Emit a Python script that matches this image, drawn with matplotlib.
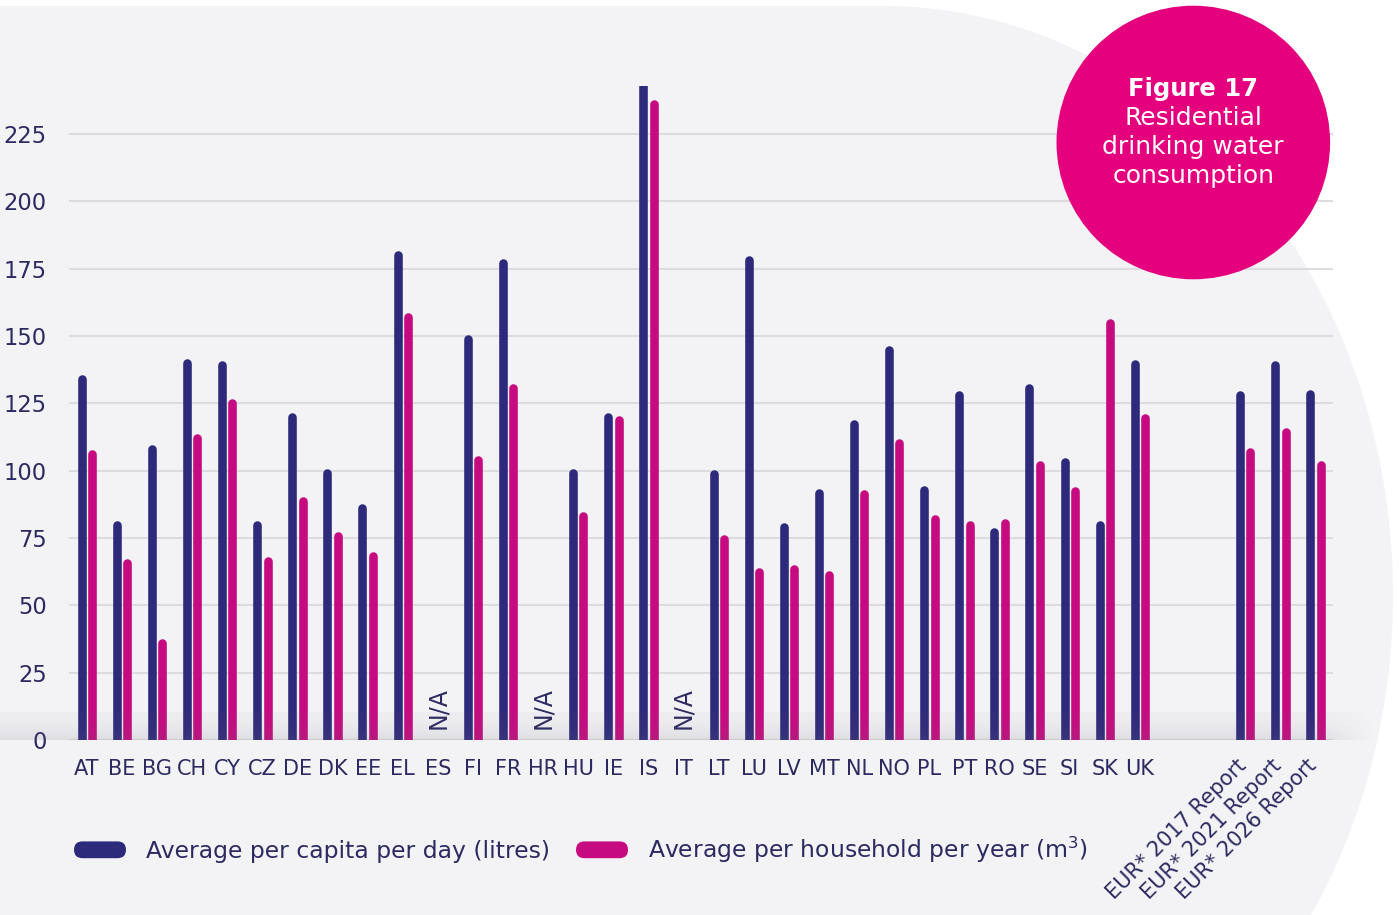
import numpy as np
import matplotlib
matplotlib.use("Agg")
import matplotlib.pyplot as plt
import matplotlib.transforms as mtransforms
from matplotlib.patches import Polygon, Circle, FancyBboxPatch, Patch
from matplotlib.legend_handler import HandlerPatch

# ---------------- data ----------------
countries = ["AT", "BE", "BG", "CH", "CY", "CZ", "DE", "DK", "EE", "EL", "ES",
             "FI", "FR", "HR", "HU", "IE", "IS", "IT", "LT", "LU", "LV", "MT",
             "NL", "NO", "PL", "PT", "RO", "SE", "SI", "SK", "UK"]
nan = np.nan
per_capita = [135.5, 81.3, 109.8, 141.7, 140.7, 81.3, 121.7, 100.9, 87.9, 181.6, nan,
              150.6, 178.9, nan, 100.9, 121.7, 250.0, nan, 100.5, 179.7, 80.8, 93.5,
              119.1, 146.3, 94.4, 129.6, 78.8, 132.4, 105.0, 81.4, 141.4]
per_household = [107.7, 67.5, 37.5, 113.9, 126.9, 68.1, 90.3, 77.4, 69.9, 158.8, nan,
                 105.5, 132.4, nan, 84.8, 120.4, 237.6, nan, 76.4, 63.8, 65.2, 62.8,
                 93.1, 112.0, 83.8, 81.4, 82.0, 103.7, 94.1, 156.6, 121.3]
eur_labels = ["EUR* 2017 Report", "EUR* 2021 Report", "EUR* 2026 Report"]
eur_per_capita = [129.6, 140.7, 130.0]
eur_per_household = [108.7, 116.1, 103.7]
na_label = "N/A"
yticks = [0, 25, 50, 75, 100, 125, 150, 175, 200, 225]
series_labels = ["Average per capita per day (litres)",
                 "Average per household per year (m$^3$)"]
title_lines = ["Figure 17", "Residential", "drinking water", "consumption"]

# ---------------- style ----------------
BLUE = "#2e2a7b"
PINK = "#c60b80"
CIRCLE = "#e5007e"
TEXT = "#2c2a60"
BG = "#f3f3f6"
GRID = "#dcdce0"
W, H = 1399, 915

fig = plt.figure(figsize=(W / 100, H / 100), dpi=100, facecolor="white")

# background shape (pixel coordinate axes)
bg = fig.add_axes([0, 0, 1, 1], zorder=0)
bg.set_xlim(0, W)
bg.set_ylim(H, 0)
bg.axis("off")
cx, cy, rx, ry = 883, 595, 510, 589
t = np.linspace(-np.pi / 2, np.pi / 2, 600)
ex = cx + rx * np.cos(t)
ey = cy + ry * np.sin(t)
verts = np.vstack([[0, cy - ry], np.column_stack([ex, ey]), [0, cy + ry]])
bg.add_patch(Polygon(verts, closed=True, facecolor=BG, edgecolor="none"))

# main axes
L, R, B, T = 69.3, 1333.0, 740.0, 85.6
ax = fig.add_axes([L / W, (H - B) / H, (R - L) / W, (B - T) / H], zorder=1)
ax.patch.set_visible(False)
ymax = 243
ax.set_ylim(0, ymax)
ax.set_xlim(-0.5, 35.5)
for s in ax.spines.values():
    s.set_visible(False)
ax.set_yticks(yticks)
ax.yaxis.grid(True, color=GRID, linewidth=1.5)
ax.set_axisbelow(True)
ax.tick_params(axis="y", length=0, pad=16.3, labelsize=16.3, labelcolor=TEXT)

x_c = np.arange(len(countries))
x_e = len(countries) + 2 + np.arange(len(eur_labels))
xs = np.concatenate([x_c, x_e]).astype(float)
blue_vals = np.array(per_capita + eur_per_capita, dtype=float)
pink_vals = np.array(per_household + eur_per_household, dtype=float)

lw_px = 8.6
lw_pt = lw_px * 72 / 100
px_per_unit = (B - T) / ymax
cap = (lw_px / 2) / px_per_unit
off = 0.148
for vals, dx, color in [(blue_vals, -off, BLUE), (pink_vals, off, PINK)]:
    m = ~np.isnan(vals)
    lc = ax.vlines(xs[m] + dx, 0, vals[m] - cap, colors=color,
                   linewidth=lw_pt, zorder=3)
    lc.set_capstyle("round")

# N/A markers
for i, v in enumerate(per_capita):
    if np.isnan(v):
        ax.text(x_c[i], 4, na_label, rotation=90, ha="center", va="bottom",
                fontsize=17, color=TEXT)

ax.set_xticks(xs)
ax.set_xticklabels(countries + eur_labels)
ax.tick_params(axis="x", length=0, pad=13.5, labelsize=15, labelcolor=TEXT)
shift = mtransforms.ScaledTranslation(-9 / 100, 3 / 100, fig.dpi_scale_trans)
for lab in ax.get_xticklabels()[len(countries):]:
    lab.set_rotation(45)
    lab.set_ha("right")
    lab.set_va("top")
    lab.set_rotation_mode("anchor")
    lab.set_fontsize(15)
    lab.set_transform(lab.get_transform() + shift)

# overlay: shadow band, circle with title
ov = fig.add_axes([0, 0, 1, 1], zorder=2)
n = 60
tt = np.linspace(0, 1, n)[:, None]
xx = np.linspace(0, 1, 200)[None, :]
alpha = (0.04 + 0.12 * tt ** 2) * np.clip((1 - xx) / 0.04, 0, 1)
img = np.zeros((n, 200, 4))
img[..., 0] = 0.42
img[..., 1] = 0.42
img[..., 2] = 0.47
img[..., 3] = alpha
ov.imshow(img, extent=(0, 1378, B, 712), aspect="auto", interpolation="bilinear",
          zorder=1)
ov.add_patch(Circle((1193.3, 142.5), 136.8, facecolor=CIRCLE, edgecolor="none",
                    zorder=5))
baselines = [96, 125, 154, 183]
for k, (line, yb) in enumerate(zip(title_lines, baselines)):
    ov.text(1193.3, yb, line, ha="center", va="baseline", color="white",
            fontsize=17.5 if k == 0 else 18,
            fontweight="bold" if k == 0 else "normal", zorder=6)
ov.set_xlim(0, W)
ov.set_ylim(H, 0)
ov.axis("off")


# legend with pill-shaped handles
class PillHandler(HandlerPatch):
    def create_artists(self, legend, orig_handle, xdescent, ydescent, width,
                       height, fontsize, trans):
        p = FancyBboxPatch((-xdescent, -ydescent), width, height,
                           boxstyle=f"round,pad=0,rounding_size={height / 2}",
                           facecolor=orig_handle.get_facecolor(),
                           edgecolor="none", transform=trans)
        return [p]


handles = [Patch(facecolor=BLUE), Patch(facecolor=PINK)]
fs = 16.9
pxf = fs * 100 / 72
fig.legend(handles, series_labels, loc="center left",
           bbox_to_anchor=(74 / W, 1 - 850 / H), ncol=2, frameon=False,
           fontsize=fs, handlelength=52 / pxf, handleheight=17 / pxf,
           handletextpad=20 / pxf, columnspacing=26 / pxf, borderpad=0,
           borderaxespad=0, labelcolor=TEXT,
           handler_map={Patch: PillHandler()})

fig.savefig("out.png", dpi=100, facecolor="white")
